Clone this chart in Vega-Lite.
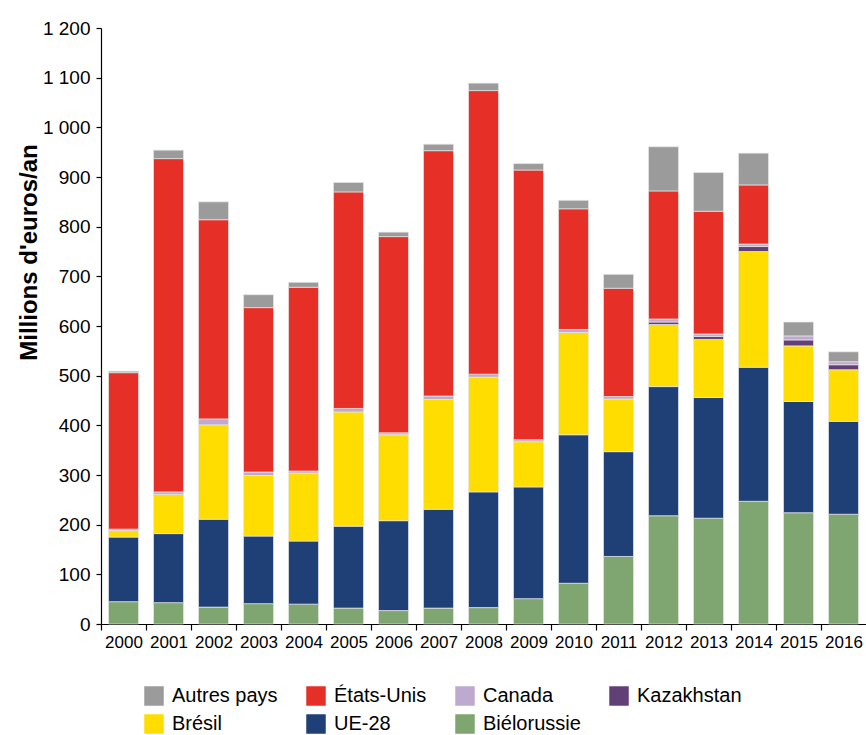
{
  "$schema": "https://vega.github.io/schema/vega-lite/v6.json",
  "width": 765,
  "height": 596,
  "autosize": {"type": "none"},
  "padding": {"left": 101, "top": 28, "right": 0, "bottom": 111},
  "background": "white",
  "config": {
    "view": {"stroke": null},
    "font": "Liberation Sans",
    "axis": {"domainColor": "#000000", "tickColor": "#000000", "labelColor": "#000000", "titleColor": "#000000", "grid": false, "labelFont": "Liberation Sans", "titleFont": "Liberation Sans"},
    "legend": {"labelFont": "Liberation Sans"}
  },
  "data": {
    "values": [
      {"annee": "2000", "pays": "Biélorussie", "valeur": 45},
      {"annee": "2000", "pays": "UE-28", "valeur": 130},
      {"annee": "2000", "pays": "Brésil", "valeur": 13},
      {"annee": "2000", "pays": "Canada", "valeur": 3},
      {"annee": "2000", "pays": "États-Unis", "valeur": 315},
      {"annee": "2000", "pays": "Autres pays", "valeur": 3},
      {"annee": "2001", "pays": "Biélorussie", "valeur": 43},
      {"annee": "2001", "pays": "UE-28", "valeur": 139},
      {"annee": "2001", "pays": "Brésil", "valeur": 79},
      {"annee": "2001", "pays": "Canada", "valeur": 5},
      {"annee": "2001", "pays": "États-Unis", "valeur": 671},
      {"annee": "2001", "pays": "Autres pays", "valeur": 17},
      {"annee": "2002", "pays": "Biélorussie", "valeur": 34},
      {"annee": "2002", "pays": "UE-28", "valeur": 177},
      {"annee": "2002", "pays": "Brésil", "valeur": 190},
      {"annee": "2002", "pays": "Canada", "valeur": 12},
      {"annee": "2002", "pays": "États-Unis", "valeur": 401},
      {"annee": "2002", "pays": "Autres pays", "valeur": 36},
      {"annee": "2003", "pays": "Biélorussie", "valeur": 41},
      {"annee": "2003", "pays": "UE-28", "valeur": 136},
      {"annee": "2003", "pays": "Brésil", "valeur": 122},
      {"annee": "2003", "pays": "Canada", "valeur": 7},
      {"annee": "2003", "pays": "États-Unis", "valeur": 331},
      {"annee": "2003", "pays": "Autres pays", "valeur": 26},
      {"annee": "2004", "pays": "Biélorussie", "valeur": 40},
      {"annee": "2004", "pays": "UE-28", "valeur": 127},
      {"annee": "2004", "pays": "Brésil", "valeur": 137},
      {"annee": "2004", "pays": "Canada", "valeur": 4},
      {"annee": "2004", "pays": "États-Unis", "valeur": 370},
      {"annee": "2004", "pays": "Autres pays", "valeur": 10},
      {"annee": "2005", "pays": "Biélorussie", "valeur": 32},
      {"annee": "2005", "pays": "UE-28", "valeur": 165},
      {"annee": "2005", "pays": "Brésil", "valeur": 230},
      {"annee": "2005", "pays": "Canada", "valeur": 7},
      {"annee": "2005", "pays": "États-Unis", "valeur": 436},
      {"annee": "2005", "pays": "Autres pays", "valeur": 19},
      {"annee": "2006", "pays": "Biélorussie", "valeur": 27},
      {"annee": "2006", "pays": "UE-28", "valeur": 181},
      {"annee": "2006", "pays": "Brésil", "valeur": 173},
      {"annee": "2006", "pays": "Canada", "valeur": 4},
      {"annee": "2006", "pays": "États-Unis", "valeur": 395},
      {"annee": "2006", "pays": "Autres pays", "valeur": 9},
      {"annee": "2007", "pays": "Biélorussie", "valeur": 32},
      {"annee": "2007", "pays": "UE-28", "valeur": 199},
      {"annee": "2007", "pays": "Brésil", "valeur": 221},
      {"annee": "2007", "pays": "Canada", "valeur": 7},
      {"annee": "2007", "pays": "États-Unis", "valeur": 494},
      {"annee": "2007", "pays": "Autres pays", "valeur": 13},
      {"annee": "2008", "pays": "Biélorussie", "valeur": 33},
      {"annee": "2008", "pays": "UE-28", "valeur": 233},
      {"annee": "2008", "pays": "Brésil", "valeur": 231},
      {"annee": "2008", "pays": "Canada", "valeur": 6},
      {"annee": "2008", "pays": "États-Unis", "valeur": 571},
      {"annee": "2008", "pays": "Autres pays", "valeur": 15},
      {"annee": "2009", "pays": "Biélorussie", "valeur": 51},
      {"annee": "2009", "pays": "UE-28", "valeur": 225},
      {"annee": "2009", "pays": "Brésil", "valeur": 91},
      {"annee": "2009", "pays": "Canada", "valeur": 4},
      {"annee": "2009", "pays": "États-Unis", "valeur": 543},
      {"annee": "2009", "pays": "Autres pays", "valeur": 13},
      {"annee": "2010", "pays": "Biélorussie", "valeur": 82},
      {"annee": "2010", "pays": "UE-28", "valeur": 299},
      {"annee": "2010", "pays": "Brésil", "valeur": 206},
      {"annee": "2010", "pays": "Canada", "valeur": 6},
      {"annee": "2010", "pays": "États-Unis", "valeur": 243},
      {"annee": "2010", "pays": "Autres pays", "valeur": 17},
      {"annee": "2011", "pays": "Biélorussie", "valeur": 136},
      {"annee": "2011", "pays": "UE-28", "valeur": 211},
      {"annee": "2011", "pays": "Brésil", "valeur": 106},
      {"annee": "2011", "pays": "Canada", "valeur": 5},
      {"annee": "2011", "pays": "États-Unis", "valeur": 218},
      {"annee": "2011", "pays": "Autres pays", "valeur": 28},
      {"annee": "2012", "pays": "Biélorussie", "valeur": 218},
      {"annee": "2012", "pays": "UE-28", "valeur": 260},
      {"annee": "2012", "pays": "Brésil", "valeur": 125},
      {"annee": "2012", "pays": "Kazakhstan", "valeur": 5},
      {"annee": "2012", "pays": "Canada", "valeur": 6},
      {"annee": "2012", "pays": "États-Unis", "valeur": 258},
      {"annee": "2012", "pays": "Autres pays", "valeur": 89},
      {"annee": "2013", "pays": "Biélorussie", "valeur": 213},
      {"annee": "2013", "pays": "UE-28", "valeur": 243},
      {"annee": "2013", "pays": "Brésil", "valeur": 117},
      {"annee": "2013", "pays": "Kazakhstan", "valeur": 6},
      {"annee": "2013", "pays": "Canada", "valeur": 5},
      {"annee": "2013", "pays": "États-Unis", "valeur": 247},
      {"annee": "2013", "pays": "Autres pays", "valeur": 78},
      {"annee": "2014", "pays": "Biélorussie", "valeur": 247},
      {"annee": "2014", "pays": "UE-28", "valeur": 270},
      {"annee": "2014", "pays": "Brésil", "valeur": 233},
      {"annee": "2014", "pays": "Kazakhstan", "valeur": 10},
      {"annee": "2014", "pays": "Canada", "valeur": 5},
      {"annee": "2014", "pays": "États-Unis", "valeur": 119},
      {"annee": "2014", "pays": "Autres pays", "valeur": 64},
      {"annee": "2015", "pays": "Biélorussie", "valeur": 224},
      {"annee": "2015", "pays": "UE-28", "valeur": 224},
      {"annee": "2015", "pays": "Brésil", "valeur": 112},
      {"annee": "2015", "pays": "Kazakhstan", "valeur": 12},
      {"annee": "2015", "pays": "Canada", "valeur": 8},
      {"annee": "2015", "pays": "Autres pays", "valeur": 28},
      {"annee": "2016", "pays": "Biélorussie", "valeur": 221},
      {"annee": "2016", "pays": "UE-28", "valeur": 187},
      {"annee": "2016", "pays": "Brésil", "valeur": 104},
      {"annee": "2016", "pays": "Kazakhstan", "valeur": 10},
      {"annee": "2016", "pays": "Canada", "valeur": 6},
      {"annee": "2016", "pays": "Autres pays", "valeur": 20}
    ]
  },
  "transform": [
    {"calculate": "indexof(['Biélorussie','UE-28','Brésil','Kazakhstan','Canada','États-Unis','Autres pays'], datum.pays)", "as": "rang"}
  ],
  "mark": {"type": "bar", "stroke": "#e6e6e6", "strokeWidth": 0.7},
  "encoding": {
    "x": {
      "field": "annee",
      "type": "nominal",
      "scale": {"paddingInner": 0.333, "paddingOuter": 0.1667},
      "axis": {
        "title": null,
        "labelAngle": 0,
        "labelFontSize": 17,
        "tickSize": 6,
        "labelPadding": 4,
        "tickOffset": -22.5,
        "labelOffset": 22.5,
        "domainWidth": 1.2,
        "tickWidth": 1.2
      }
    },
    "y": {
      "field": "valeur",
      "type": "quantitative",
      "aggregate": "sum",
      "stack": "zero",
      "scale": {"domain": [0, 1200], "nice": false},
      "axis": {
        "title": "Millions d'euros/an",
        "titleFontSize": 24,
        "titleFontWeight": "bold",
        "titleX": -65,
        "titleY": 224,
        "titleAngle": -90,
        "titleAlign": "center",
        "titleBaseline": "alphabetic",
        "values": [0, 100, 200, 300, 400, 500, 600, 700, 800, 900, 1000, 1100, 1200],
        "labelExpr": "replace(format(datum.value, ','), ',', ' ')",
        "labelFontSize": 19,
        "tickSize": 5,
        "labelPadding": 6,
        "domainWidth": 1.2,
        "tickWidth": 1.2
      }
    },
    "color": {
      "field": "pays",
      "type": "nominal",
      "scale": {
        "domain": ["Autres pays", "États-Unis", "Canada", "Kazakhstan", "Brésil", "UE-28", "Biélorussie"],
        "range": ["#9b9b9b", "#e63027", "#bea9d0", "#633f78", "#ffdd00", "#1f3f77", "#7fa571"]
      },
      "legend": {
        "title": null,
        "orient": "none",
        "legendX": 43,
        "legendY": 658,
        "direction": "horizontal",
        "columns": 4,
        "columnPadding": 28,
        "rowPadding": 8,
        "symbolType": "square",
        "symbolSize": 380,
        "symbolStrokeWidth": 0,
        "symbolOpacity": 1,
        "labelFontSize": 20,
        "labelOffset": 8,
        "labelColor": "#000000",
        "padding": 0,
        "labelLimit": 300
      }
    },
    "order": {"field": "rang", "type": "quantitative", "sort": "ascending"}
  }
}
